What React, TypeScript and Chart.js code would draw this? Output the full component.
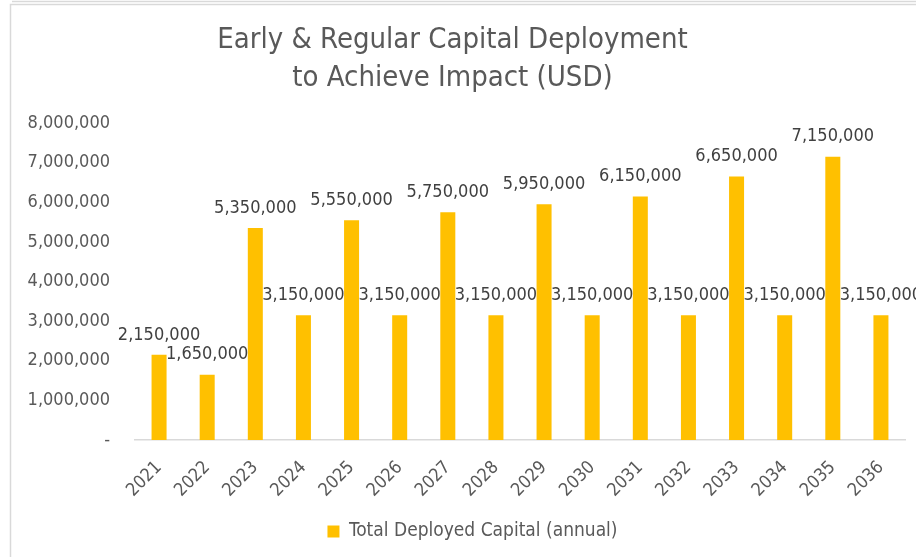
import React, { useEffect, useRef } from "react";
import { Chart, registerables } from "chart.js";

Chart.register(...registerables);

const years = ["2021", "2022", "2023", "2024", "2025", "2026", "2027", "2028", "2029", "2030", "2031", "2032", "2033", "2034", "2035", "2036"];
const deployedCapital = [2150000, 1650000, 5350000, 3150000, 5550000, 3150000, 5750000, 3150000, 5950000, 3150000, 6150000, 3150000, 6650000, 3150000, 7150000, 3150000];
const seriesLabel = "Total Deployed Capital (annual)";
const titleLines = ["Early & Regular Capital Deployment", "to Achieve Impact (USD)"];
const yMin = 0;
const yMax = 8000000;
const yStep = 1000000;

const FONT = '"DejaVu Sans Condensed", "DejaVu Sans", sans-serif';

const fmt = (v: number) => (v === 0 ? "-" : v.toLocaleString("en-US"));

const framePlugin = {
  id: "frame",
  afterLayout(chart: any) {
    if (chart.legend) {
      chart.legend.left += 20;
      chart.legend.right += 20;
    }
  },
  beforeDraw(chart: any) {
    const ctx = chart.ctx;
    ctx.save();
    ctx.fillStyle = "#ffffff";
    ctx.fillRect(0, 0, chart.width, chart.height);
    ctx.strokeStyle = "#d9d9d9";
    ctx.lineWidth = 1.5;
    ctx.beginPath();
    ctx.moveTo(12, 1.5);
    ctx.lineTo(chart.width, 1.5);
    ctx.moveTo(10.5, chart.height);
    ctx.lineTo(10.5, 4.5);
    ctx.lineTo(chart.width, 4.5);
    ctx.stroke();
    ctx.restore();
  },
};

const labelPlugin = {
  id: "barLabels",
  afterDatasetsDraw(chart: any) {
    const ctx = chart.ctx;
    ctx.save();
    ctx.font = `18px ${FONT}`;
    ctx.fillStyle = "#404040";
    ctx.textAlign = "center";
    ctx.textBaseline = "middle";
    chart.data.datasets.forEach((ds: any, di: number) => {
      const meta = chart.getDatasetMeta(di);
      meta.data.forEach((bar: any, i: number) => {
        ctx.fillText(fmt(ds.data[i]), bar.x, bar.y - 20);
      });
    });
    ctx.restore();
  },
};

export default function App() {
  const ref = useRef<HTMLCanvasElement>(null);
  useEffect(() => {
    if (!ref.current) return;
    const chart = new Chart(ref.current, {
      type: "bar",
      data: {
        labels: years,
        datasets: [
          {
            label: seriesLabel,
            data: deployedCapital,
            backgroundColor: "#FFC000",
            borderWidth: 0,
            barPercentage: 0.312,
            categoryPercentage: 1,
          },
        ],
      },
      options: {
        responsive: false,
        animation: false,
        devicePixelRatio: 1,
        layout: { padding: { left: 0, right: 11, top: 0, bottom: 6 } },
        font: { family: FONT },
        plugins: {
          title: {
            display: true,
            text: titleLines,
            color: "#595959",
            font: { family: FONT, size: 29, weight: "normal", lineHeight: 1.33 },
            padding: { top: 21, bottom: 25 },
          },
          legend: {
            display: true,
            position: "bottom",
            labels: {
              color: "#595959",
              font: { family: FONT, size: 19 },
              boxWidth: 12,
              boxHeight: 12,
              padding: 10,
            },
          },
          tooltip: { enabled: false },
        },
        scales: {
          x: {
            grid: { display: false, drawTicks: false },
            border: { display: true, color: "#d9d9d9", width: 1.5 },
            ticks: {
              color: "#595959",
              font: { family: FONT, size: 18 },
              minRotation: 45,
              maxRotation: 45,
              padding: 17,
              autoSkip: false,
            },
            afterFit(scale: any) {
              scale.height = 72;
            },
          },
          y: {
            min: yMin,
            max: yMax,
            grid: { display: false, drawTicks: false },
            border: { display: false },
            ticks: {
              stepSize: yStep,
              color: "#595959",
              font: { family: FONT, size: 18 },
              padding: 25,
              callback: (v: any) => fmt(Number(v)),
            },
            afterFit(scale: any) {
              scale.width = 135;
            },
          },
        },
      },
      plugins: [framePlugin, labelPlugin],
    });
    return () => chart.destroy();
  }, []);
  return (
    <div style={{ position: "fixed", left: 0, top: 0, width: 916, height: 557 }}>
      <canvas ref={ref} width={916} height={557} style={{ display: "block" }} />
    </div>
  );
}
